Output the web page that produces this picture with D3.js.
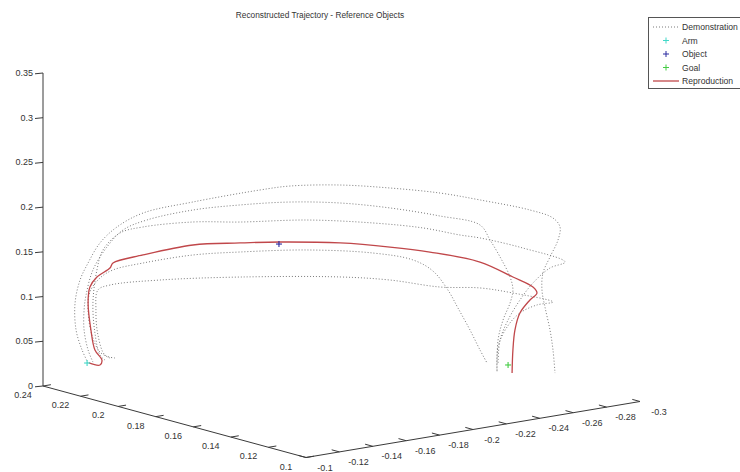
<!DOCTYPE html>
<html><head><meta charset="utf-8">
<script src="https://cdn.jsdelivr.net/npm/d3@7"></script>
<style>body{margin:0;background:#fff}svg{display:block}text{font-family:"Liberation Sans",Arial,sans-serif;fill:#333}</style>
</head><body><svg id="c" width="740" height="472"></svg>
<script>
const title = "Reconstructed Trajectory - Reference Objects";
const xTicks = [-0.1,-0.12,-0.14,-0.16,-0.18,-0.2,-0.22,-0.24,-0.26,-0.28,-0.3];
const yTicks = [0.24,0.22,0.2,0.18,0.16,0.14,0.12,0.1];
const zTicks = [0,0.05,0.1,0.15,0.2,0.25,0.3,0.35];
const legendLabels = ["Demonstration","Arm","Object","Goal","Reproduction"];

// demonstrations: [x, y, z]
const demo1 = [[-0.1045,0.22,0.0357],[-0.1009,0.22,0.0514],[-0.0973,0.22,0.0749],[-0.0967,0.22,0.1053],[-0.0997,0.22,0.1301],[-0.1045,0.22,0.1476],[-0.1116,0.22,0.1677],[-0.1218,0.22,0.1824],[-0.1149,0.20,0.2116],[-0.1448,0.20,0.2146],[-0.1624,0.18,0.2339],[-0.1804,0.18,0.2327],[-0.1879,0.16,0.2429],[-0.2178,0.16,0.2302],[-0.2252,0.14,0.2337],[-0.2267,0.12,0.2369],[-0.2566,0.12,0.2163],[-0.2704,0.12,0.2030],[-0.2746,0.12,0.1917],[-0.2734,0.12,0.1775],[-0.2686,0.12,0.1600],[-0.2644,0.12,0.1434],[-0.2638,0.12,0.1246],[-0.2656,0.12,0.1050],[-0.2686,0.12,0.0784],[-0.2704,0.12,0.0554],[-0.2716,0.12,0.0293]];
const demo2 = [[-0.1074,0.22,0.0359],[-0.1045,0.22,0.0503],[-0.1021,0.22,0.0734],[-0.1021,0.22,0.0958],[-0.1033,0.22,0.1122],[-0.1074,0.22,0.1388],[-0.1158,0.22,0.1619],[-0.1254,0.22,0.1779],[-0.1173,0.20,0.2031],[-0.1448,0.20,0.2056],[-0.1505,0.18,0.2209],[-0.1804,0.18,0.2148],[-0.1879,0.16,0.2228],[-0.2178,0.16,0.2079],[-0.2252,0.14,0.2080],[-0.2267,0.12,0.2089],[-0.2327,0.12,0.1903],[-0.2387,0.12,0.1694],[-0.2447,0.12,0.1451],[-0.2464,0.12,0.1300],[-0.2447,0.12,0.1161],[-0.2405,0.12,0.0984],[-0.2375,0.12,0.0769],[-0.2369,0.12,0.0413]];
const demo3 = [[-0.1146,0.22,0.0359],[-0.1116,0.22,0.0424],[-0.1086,0.22,0.0680],[-0.1074,0.22,0.1019],[-0.1098,0.22,0.1381],[-0.1134,0.22,0.1593],[-0.1236,0.22,0.1751],[-0.1149,0.20,0.1960],[-0.1448,0.20,0.1922],[-0.1505,0.18,0.2018],[-0.1906,0.18,0.1915],[-0.2076,0.16,0.1943],[-0.2151,0.14,0.1978],[-0.2372,0.14,0.1830],[-0.2267,0.12,0.1944],[-0.2524,0.12,0.1751],[-0.2776,0.12,0.1516],[-0.2686,0.12,0.1477],[-0.2584,0.12,0.1341],[-0.2506,0.12,0.1175],[-0.2435,0.12,0.0974],[-0.2387,0.12,0.0766],[-0.2375,0.12,0.0512]];
const demo4 = [[-0.1176,0.22,0.0372],[-0.1116,0.22,0.0458],[-0.1068,0.22,0.0663],[-0.1045,0.22,0.0950],[-0.1056,0.22,0.1148],[-0.1116,0.22,0.1285],[-0.1194,0.22,0.1351],[-0.1149,0.20,0.1557],[-0.1448,0.20,0.1553],[-0.1505,0.18,0.1683],[-0.1906,0.18,0.1580],[-0.2076,0.16,0.1607],[-0.2316,0.16,0.1454],[-0.2210,0.14,0.1478],[-0.2300,0.14,0.1237],[-0.2360,0.14,0.1017],[-0.2432,0.14,0.0749],[-0.2267,0.12,0.0691],[-0.2309,0.12,0.0533]];
const demo5 = [[-0.1206,0.22,0.0363],[-0.1146,0.22,0.0415],[-0.1104,0.22,0.0652],[-0.1092,0.22,0.0935],[-0.1104,0.22,0.1155],[-0.1176,0.22,0.1188],[-0.1251,0.20,0.1335],[-0.1505,0.18,0.1403],[-0.1879,0.16,0.1401],[-0.2178,0.16,0.1273],[-0.2252,0.14,0.1286],[-0.2267,0.12,0.1385],[-0.2464,0.12,0.1267],[-0.2704,0.12,0.1091],[-0.2608,0.12,0.1088],[-0.2506,0.12,0.1030],[-0.2429,0.12,0.0898],[-0.2375,0.12,0.0691],[-0.2369,0.12,0.0413]];
const reproduction = [[-0.1050,0.22,0.0356],[-0.1116,0.22,0.0313],[-0.1128,0.22,0.0365],[-0.1086,0.22,0.0490],[-0.1062,0.22,0.0721],[-0.1045,0.22,0.1028],[-0.1056,0.22,0.1204],[-0.1098,0.22,0.1302],[-0.1176,0.22,0.1378],[-0.1194,0.22,0.1429],[-0.1149,0.20,0.1647],[-0.1448,0.20,0.1665],[-0.1505,0.18,0.1784],[-0.1744,0.18,0.1720],[-0.1879,0.16,0.1781],[-0.2178,0.16,0.1642],[-0.2192,0.14,0.1696],[-0.2267,0.12,0.1675],[-0.2464,0.12,0.1446],[-0.2584,0.12,0.1296],[-0.2608,0.12,0.1222],[-0.2566,0.12,0.1157],[-0.2506,0.12,0.1030],[-0.2476,0.12,0.0849],[-0.2464,0.12,0.0629],[-0.2459,0.12,0.0374]];
const arm = [-0.1039,0.22,0.0359];
const object = [-0.1738,0.18,0.1699];
const goal = [-0.2435,0.12,0.0471];

const svg = d3.select("#c");
const sx = d3.scaleLinear().domain([-0.1,-0.3]).range([0,1]);
const sy = d3.scaleLinear().domain([0.24,0.1]).range([0,1]);
const sz = d3.scaleLinear().domain([0,0.35]).range([0,1]);
const O=[43,386], VX=[334,-56], VY=[263,71.5], VZ=[0,-313];
function proj(p){const a=sx(p[0]),b=sy(p[1]),c=sz(p[2]);
  return [O[0]+a*VX[0]+b*VY[0]+c*VZ[0], O[1]+a*VX[1]+b*VY[1]+c*VZ[1]];}
const axisCol="#3a3a3a";
function seg(p,q,col,w){svg.append("line").attr("x1",p[0]).attr("y1",p[1]).attr("x2",q[0]).attr("y2",q[1]).attr("stroke",col||axisCol).attr("stroke-width",w||1);}

// axes
seg(proj([-0.1,0.24,0]),proj([-0.1,0.24,0.35]));
seg(proj([-0.1,0.24,0]),proj([-0.1,0.1,0]));
seg(proj([-0.1,0.1,0]),proj([-0.3,0.1,0]));
const fmt = v => String(+v.toFixed(2));
zTicks.forEach(t=>{const p=proj([-0.1,0.24,t]); seg(p,[p[0]-8,p[1]+0.8]);
  svg.append("text").attr("x",p[0]-10).attr("y",p[1]+3).attr("text-anchor","end").attr("font-size",9).text(fmt(t));});
yTicks.forEach(t=>{const p=proj([-0.1,t,0]); seg(p,[p[0]+7.9,p[1]-1.3]);
  svg.append("text").attr("x",p[0]-20).attr("y",p[1]+12).attr("text-anchor","middle").attr("font-size",9).text(fmt(t));});
xTicks.forEach(t=>{const p=proj([t,0.1,0]); seg(p,[p[0]-7.7,p[1]-2.1]);
  svg.append("text").attr("x",p[0]+19).attr("y",p[1]+13).attr("text-anchor","middle").attr("font-size",9).text(fmt(t));});

const line = d3.line().curve(d3.curveCatmullRom.alpha(0.5));
[demo1,demo2,demo3,demo4,demo5].forEach(d=>{
  svg.append("path").attr("d",line(d.map(proj))).attr("fill","none").attr("stroke","#7a7a7a").attr("stroke-width",1).attr("stroke-dasharray","1,2");
});
svg.append("path").attr("d",line(reproduction.map(proj))).attr("fill","none").attr("stroke","#c0474a").attr("stroke-width",1.3);
function plus(p,col){const q=proj(p);seg([q[0]-3,q[1]],[q[0]+3,q[1]],col,1.1);seg([q[0],q[1]-3],[q[0],q[1]+3],col,1.1);}
plus(arm,"#40d8c8"); plus(object,"#2a2aa0"); plus(goal,"#44cc44");

svg.append("text").attr("x",320).attr("y",18).attr("text-anchor","middle").attr("font-size",8.3).attr("fill","#222").text(title);

// legend
const lg = svg.append("g");
lg.append("rect").attr("x",648.5).attr("y",17.5).attr("width",100).attr("height",71).attr("fill","#fff").attr("stroke","#555");
const ly=[27,40.5,54,67.5,81];
legendLabels.forEach((l,i)=>{lg.append("text").attr("x",682).attr("y",ly[i]+3).attr("font-size",8.6).attr("fill","#111").text(l);});
lg.append("line").attr("x1",653).attr("x2",679).attr("y1",ly[0]).attr("y2",ly[0]).attr("stroke","#7a7a7a").attr("stroke-dasharray","1,2");
lg.append("line").attr("x1",653).attr("x2",679).attr("y1",ly[4]).attr("y2",ly[4]).attr("stroke","#c0474a").attr("stroke-width",1.3);
[["#40d8c8",1],["#2a2aa0",2],["#44cc44",3]].forEach(([c,i])=>{
  lg.append("line").attr("x1",663).attr("x2",669).attr("y1",ly[i]).attr("y2",ly[i]).attr("stroke",c);
  lg.append("line").attr("x1",666).attr("x2",666).attr("y1",ly[i]-3).attr("y2",ly[i]+3).attr("stroke",c);});
</script></body></html>
